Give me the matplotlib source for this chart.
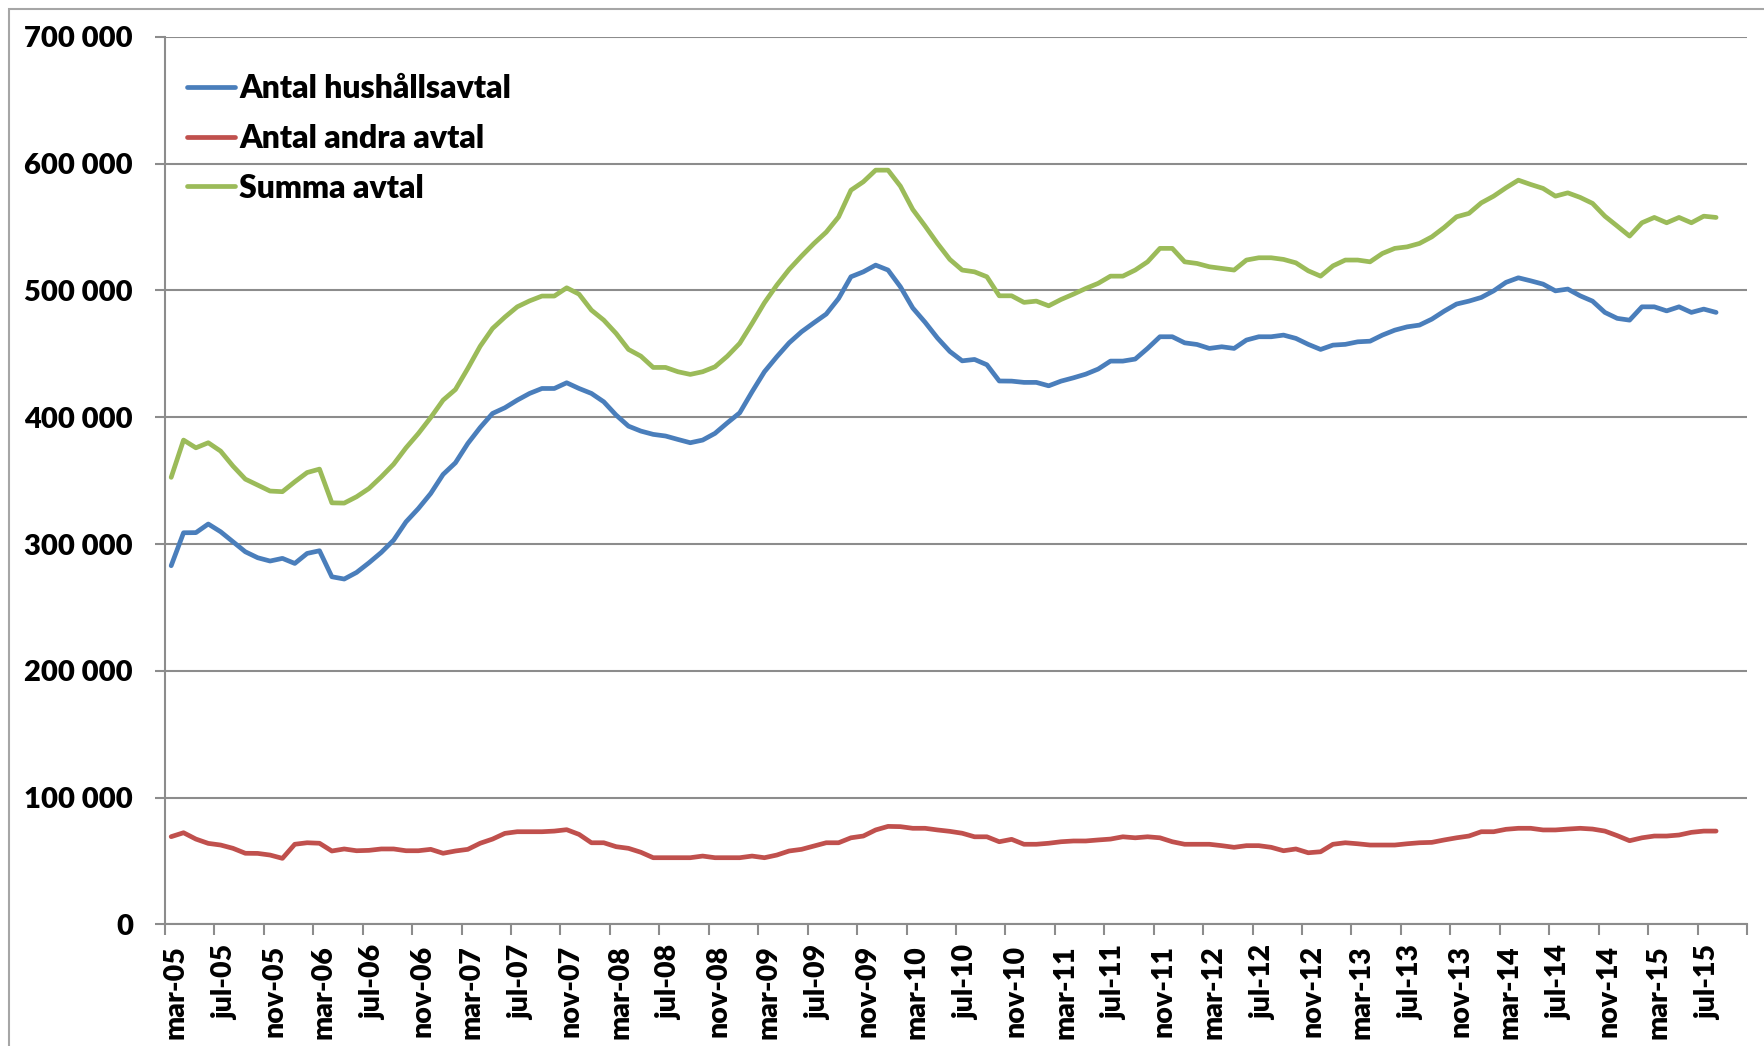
import numpy as np
import matplotlib
matplotlib.use("Agg")
import matplotlib.pyplot as plt
from matplotlib.ticker import FixedLocator, FuncFormatter
from matplotlib.patches import Rectangle
from matplotlib.transforms import ScaledTranslation

plt.rcParams['font.family'] = ['Lato', 'DejaVu Sans']
plt.rcParams['font.weight'] = 'bold'

# monthly values from mar-05, in thousands
hushall = [282.9, 308.9, 309.0, 315.8, 309.7, 301.8, 293.9, 289.2, 286.6, 288.7,
           284.7, 292.6, 294.7, 274.2, 272.4, 277.6, 285.2, 293.4, 303.1, 317.5,
           328.0, 339.9, 354.9, 364.1, 379.3, 391.9, 403.0, 407.5, 413.5, 418.8,
           422.7, 422.7, 427.2, 422.7, 418.8, 412.2, 401.7, 393.0, 389.1, 386.5,
           385.2, 382.5, 379.9, 382.0, 387.3, 395.6, 403.5, 420.1, 435.9, 447.7,
           458.7, 467.4, 474.5, 481.4, 493.7, 510.8, 514.7, 520.0, 516.1, 502.9,
           486.2, 474.9, 462.5, 451.9, 444.5, 445.6, 441.4, 428.6, 428.5, 427.5,
           427.5, 424.8, 428.5, 431.1, 434.0, 438.0, 444.3, 444.3, 445.9, 454.3,
           463.5, 463.5, 458.7, 457.4, 454.3, 455.6, 454.3, 460.9, 463.5, 463.5,
           464.8, 462.2, 457.5, 453.5, 456.9, 457.5, 459.5, 460.0, 464.8, 468.7,
           471.3, 472.7, 477.4, 483.7, 489.3, 491.6, 494.5, 499.7, 506.4, 510.0,
           507.6, 505.0, 499.7, 501.1, 495.8, 491.6, 482.7, 478.0, 476.6, 487.1,
           487.1, 483.9, 487.1, 482.7, 485.3, 482.7]

andra = [69.2, 72.3, 67.3, 63.9, 62.6, 60.0, 56.1, 56.0, 54.7, 52.1,
         63.2, 64.4, 64.0, 57.9, 59.5, 58.1, 58.4, 59.5, 59.5, 58.1,
         58.1, 59.2, 56.1, 57.9, 59.2, 64.0, 67.3, 71.8, 73.1, 73.1,
         73.1, 73.6, 74.7, 71.0, 64.4, 64.4, 61.3, 60.0, 56.9, 52.6,
         52.6, 52.6, 52.6, 53.9, 52.6, 52.6, 52.6, 53.9, 52.6, 54.7,
         57.9, 59.2, 61.8, 64.4, 64.4, 68.3, 69.7, 74.5, 77.3, 77.1,
         75.8, 75.8, 74.5, 73.4, 71.9, 69.1, 69.1, 65.2, 67.1, 63.2,
         63.2, 64.0, 65.2, 65.8, 65.8, 66.6, 67.3, 69.1, 68.3, 69.1,
         68.3, 65.2, 63.2, 63.2, 63.2, 62.1, 60.8, 62.1, 62.1, 60.8,
         58.1, 59.5, 56.5, 57.3, 63.2, 64.4, 63.6, 62.6, 62.6, 62.6,
         63.6, 64.4, 64.7, 66.6, 68.3, 69.7, 73.1, 73.1, 75.0, 75.8,
         75.8, 74.5, 74.5, 75.2, 75.8, 75.2, 73.6, 70.0, 66.0, 68.3,
         69.7, 69.7, 70.5, 72.6, 73.6, 73.6]

summa = [352.6, 382.0, 375.9, 379.9, 373.3, 361.5, 351.2, 346.5, 341.8, 341.3,
         349.1, 356.4, 359.1, 332.5, 332.3, 337.3, 343.8, 353.0, 363.0, 375.9,
         387.2, 399.8, 413.5, 421.9, 438.5, 456.0, 470.0, 479.0, 487.1, 491.8,
         495.6, 495.6, 502.1, 497.1, 484.5, 476.6, 466.1, 453.5, 448.2, 439.3,
         439.3, 435.9, 433.8, 435.9, 439.8, 448.2, 458.3, 474.0, 490.3, 504.2,
         516.6, 527.1, 537.0, 546.0, 558.0, 579.1, 585.7, 594.9, 594.9, 582.3,
         563.9, 550.8, 537.1, 524.5, 516.1, 514.7, 510.8, 495.8, 495.8, 490.6,
         491.6, 487.9, 492.9, 497.1, 501.6, 505.6, 511.3, 511.3, 516.1, 522.6,
         533.2, 533.2, 522.6, 521.3, 518.7, 517.4, 516.1, 524.0, 525.8, 525.8,
         524.5, 521.8, 515.5, 511.3, 519.4, 524.0, 524.0, 522.6, 529.2, 533.2,
         534.4, 537.1, 542.3, 549.7, 558.1, 560.8, 569.1, 574.4, 581.0, 587.0,
         583.6, 580.5, 574.4, 577.0, 573.4, 568.7, 558.6, 550.8, 542.9, 553.4,
         557.6, 553.4, 557.6, 553.4, 558.6, 557.6]

tick_labels = ['mar-05', 'jul-05', 'nov-05', 'mar-06', 'jul-06', 'nov-06',
               'mar-07', 'jul-07', 'nov-07', 'mar-08', 'jul-08', 'nov-08',
               'mar-09', 'jul-09', 'nov-09', 'mar-10', 'jul-10', 'nov-10',
               'mar-11', 'jul-11', 'nov-11', 'mar-12', 'jul-12', 'nov-12',
               'mar-13', 'jul-13', 'nov-13', 'mar-14', 'jul-14', 'nov-14',
               'mar-15', 'jul-15']
n_months = 128  # axis runs mar-05 .. oct-15

series = [("Antal hushållsavtal", hushall, "#4A7EBB"),
          ("Antal andra avtal", andra, "#C0504D"),
          ("Summa avtal", summa, "#9BBB59")]

W, H = 1765, 1046
fig = plt.figure(figsize=(W / 100, H / 100), dpi=100)
ax = fig.add_axes([165 / W, 1 - 924.4 / H, (1747 - 165) / W, (924.4 - 36.9) / H])

for name, vals, col in series:
    ax.plot(np.arange(len(vals)), np.array(vals) * 1000, color=col, lw=3.4,
            label=name, solid_joinstyle='round', solid_capstyle='round')

grid_c = "#8C8C8C"
ax.set_xlim(-0.5, n_months - 0.5)
ax.set_ylim(0, 700000)
ax.yaxis.set_major_locator(FixedLocator(np.arange(0, 700001, 100000)))
ax.yaxis.set_major_formatter(FuncFormatter(lambda v, p: f"{int(v):,}".replace(",", " ")))
ax.grid(axis='y', color=grid_c, lw=1.5)
ax.set_axisbelow(True)

# tick marks between every 4th category, labels on the category
ax.xaxis.set_major_locator(FixedLocator(np.arange(-0.5, n_months, 4)))
ax.xaxis.set_major_formatter(FuncFormatter(lambda v, p: ""))
ax.xaxis.set_minor_locator(FixedLocator(np.arange(0, n_months, 4)))
ax.set_xticklabels(tick_labels, minor=True, rotation=90, fontsize=20.5, fontweight='heavy')
ax.tick_params(axis='x', which='major', length=8, width=1.5, color=grid_c)
ax.tick_params(axis='x', which='minor', length=0, pad=15)
ax.tick_params(axis='y', length=7, width=1.5, color=grid_c, pad=16, labelsize=21)
for t in ax.get_yticklabels():
    t.set_fontweight('heavy')
shift = ScaledTranslation(4 / 100, 0, fig.dpi_scale_trans)
for t in ax.xaxis.get_minorticklabels():
    t.set_transform(t.get_transform() + shift)

for s in ['top', 'right']:
    ax.spines[s].set_visible(False)
for s in ['left', 'bottom']:
    ax.spines[s].set_color(grid_c)
    ax.spines[s].set_linewidth(1.5)

leg = ax.legend(loc='upper left', bbox_to_anchor=(-0.003, 0.989), frameon=False,
                prop={'size': 23, 'weight': 'heavy'}, handlelength=1.5,
                handletextpad=0.12, labelspacing=0.655, borderaxespad=0.45)

fig.patches.append(Rectangle((9 / W, -0.05), 1.2, 1.05 - 9 / H, transform=fig.transFigure,
                             fill=False, edgecolor="#A6A6A6", lw=1.5))

fig.savefig("out.png", dpi=100)
